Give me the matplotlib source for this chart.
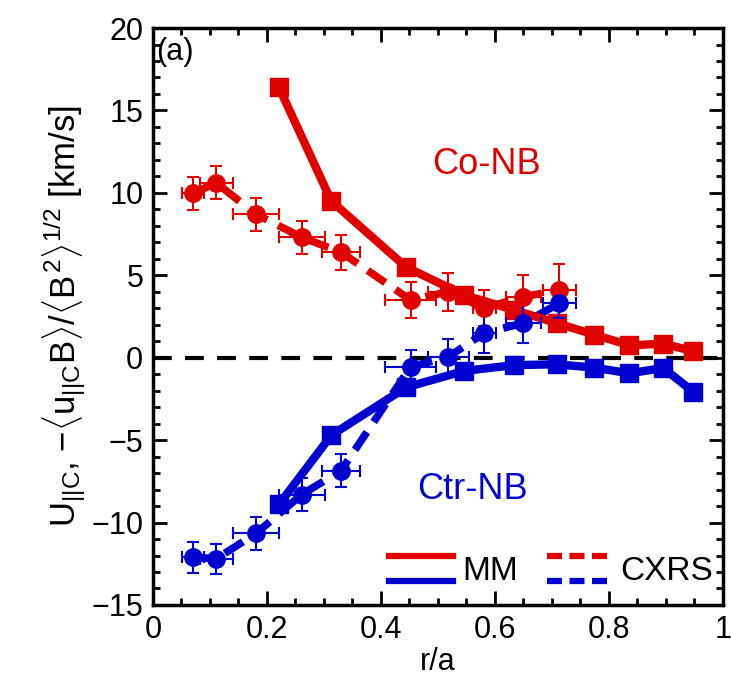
import matplotlib
matplotlib.use("Agg")
import matplotlib.pyplot as plt
from matplotlib.lines import Line2D
from matplotlib.legend_handler import HandlerBase
from matplotlib.ticker import MultipleLocator, FuncFormatter

plt.rcParams['font.family'] = ['Liberation Sans', 'DejaVu Sans']
plt.rcParams['mathtext.fontset'] = 'custom'
plt.rcParams['mathtext.rm'] = 'Liberation Sans'
plt.rcParams['mathtext.it'] = 'Liberation Sans'

RED = '#e00000'
BLUE = '#0000d0'

# MM (solid, squares)
r_mm = [0.221, 0.313, 0.444, 0.546, 0.633, 0.708, 0.774, 0.836, 0.895, 0.948]
co_mm = [16.4, 9.5, 5.5, 3.8, 2.9, 2.1, 1.4, 0.75, 0.85, 0.4]
ctr_mm = [-8.9, -4.7, -1.8, -0.8, -0.45, -0.4, -0.6, -0.95, -0.62, -2.07]

# CXRS (dashed, circles with error bars)
r_cx = [0.070, 0.111, 0.181, 0.261, 0.330, 0.452, 0.518, 0.581, 0.650, 0.713]
r_cx_err = [0.019, 0.029, 0.040, 0.040, 0.033, 0.045, 0.036, 0.020, 0.030, 0.029]
co_cx = [9.98, 10.6, 8.7, 7.3, 6.4, 3.5, 4.0, 3.0, 3.7, 4.1]
co_cx_err = [1.0, 1.0, 1.0, 1.0, 1.05, 1.1, 1.15, 1.1, 1.3, 1.6]
ctr_cx = [-12.1, -12.2, -10.65, -8.3, -6.85, -0.55, 0.05, 1.5, 2.1, 3.3]
ctr_cx_err = [0.95, 0.9, 1.0, 1.0, 1.0, 1.0, 1.1, 1.2, 1.2, 0.9]


class TwoLines(HandlerBase):
    # red line above blue line in one legend entry
    def create_artists(self, legend, orig_handle, xdescent, ydescent,
                       width, height, fontsize, trans):
        ls = orig_handle.get_linestyle()
        out = []
        for yy, c in [(height * 1.0, RED), (height * -0.05, BLUE)]:
            ln = Line2D([-xdescent, width - xdescent], [yy - ydescent] * 2,
                        color=c, lw=4.5, transform=trans)
            if ls != '-':
                ln.set_dashes((2.4, 1.2))
            out.append(ln)
        return out


fig = plt.figure(figsize=(7.31, 6.87), dpi=100)
ax = fig.add_axes([0.2093, 0.1194, 0.7797, 0.8398])

ax.axhline(0, color='black', lw=3, dashes=(4.5, 3.2), zorder=1)

for y, c in [(co_mm, RED), (ctr_mm, BLUE)]:
    ax.plot(r_mm, y, '-', color=c, lw=6, marker='s', ms=12.5, zorder=3)

for y, e, c in [(co_cx, co_cx_err, RED), (ctr_cx, ctr_cx_err, BLUE)]:
    ax.plot(r_cx, y, color=c, lw=5.5, dashes=(2.8, 1.6), zorder=2)
    ax.errorbar(r_cx, y, yerr=e, xerr=r_cx_err, fmt='o', color=c, ms=12.5,
                elinewidth=1.5, capsize=4, capthick=1.5, zorder=4)

ax.set_xlim(0, 1)
ax.set_ylim(-15, 20)
ax.xaxis.set_major_locator(MultipleLocator(0.2))
ax.xaxis.set_minor_locator(MultipleLocator(0.05))
ax.yaxis.set_major_locator(MultipleLocator(5))
ax.yaxis.set_minor_locator(MultipleLocator(1))
ax.xaxis.set_major_formatter(FuncFormatter(lambda v, p: f'{v:g}'))
ax.yaxis.set_major_formatter(FuncFormatter(lambda v, p: f'{v:g}'.replace('-', '\u2212')))
ax.tick_params(which='both', direction='in', top=True, right=True,
               width=2, labelsize=22)
ax.tick_params(which='major', length=10, pad=7)
ax.tick_params(which='minor', length=5)
for s in ax.spines.values():
    s.set_linewidth(2.5)

ax.set_xlabel('r/a', fontsize=22, labelpad=2)
ax.set_ylabel(r'U$_{||C}$, $-\langle u_{||C}B\rangle/\langle B^2\rangle^{1/2}$ [km/s]',
              fontsize=25, labelpad=2)

ax.text(0.006, 0.985, '(a)', transform=ax.transAxes, fontsize=22,
        va='top', ha='left')
ax.text(0.585, 0.763, 'Co-NB', transform=ax.transAxes, fontsize=26,
        color=RED, ha='center', va='center')
ax.text(0.56, 0.2, 'Ctr-NB', transform=ax.transAxes, fontsize=26,
        color=BLUE, ha='center', va='center')

h_mm = Line2D([], [], linestyle='-')
h_cx = Line2D([], [], linestyle='--')
ax.legend([h_mm, h_cx], ['MM', 'CXRS'], handler_map={Line2D: TwoLines()},
          ncol=2, frameon=False, fontsize=24, loc='lower right',
          bbox_to_anchor=(1.035, -0.02), handlelength=1.9, handletextpad=0.3,
          columnspacing=0.85)

fig.savefig('out.png', dpi=100)
